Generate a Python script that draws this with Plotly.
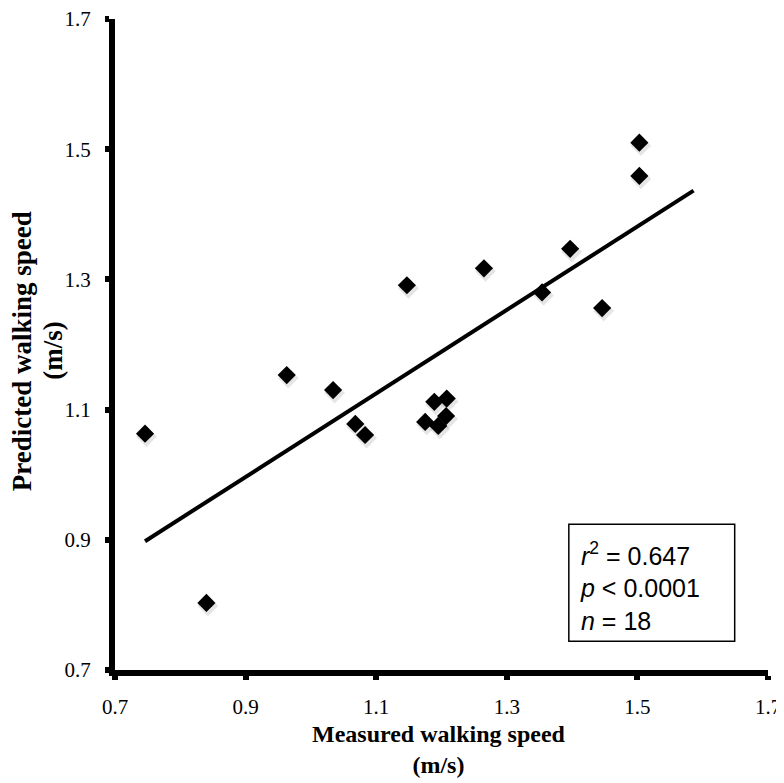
import numpy as np
import plotly.graph_objects as go

# Data
measured = [0.746, 0.840, 0.963, 1.034, 1.068, 1.083, 1.147, 1.175, 1.189,
            1.195, 1.207, 1.208, 1.265, 1.354, 1.397, 1.446, 1.503, 1.503]
predicted = [1.063, 0.803, 1.153, 1.130, 1.078, 1.061, 1.291, 1.081, 1.112,
             1.075, 1.090, 1.117, 1.317, 1.280, 1.347, 1.256, 1.510, 1.459]
tick_vals = [0.7, 0.9, 1.1, 1.3, 1.5, 1.7]
tick_text = ["0.7", "0.9", "1.1", "1.3", "1.5", "1.7"]
trend_forward = 0.083  # trendline forecast beyond last point
stats_text = "<i>r</i><sup>2</sup> = 0.647<br><i>p</i> &lt; 0.0001<br><i>n</i> = 18"

mx = np.array(measured)
py = np.array(predicted)
slope, intercept = np.polyfit(mx, py, 1)
tx = np.array([mx.min(), mx.max() + trend_forward])
ty = slope * tx + intercept

L, R, T, B = 107, 24, 11, 121
W, H = 784, 783
pw, ph = W - L - R, H - T - B
# small drop-shadow offset for markers (in pixels -> data units)
sdx, sdy = 1.5 / pw, -3.0 / ph

fig = go.Figure()
fig.add_trace(go.Scatter(x=mx + sdx, y=py + sdy, mode="markers",
                         marker=dict(symbol="diamond", size=16,
                                     color="rgba(0,0,0,0.10)", line=dict(width=0)),
                         hoverinfo="skip"))
fig.add_trace(go.Scatter(x=tx, y=ty, mode="lines",
                         line=dict(color="black", width=4), hoverinfo="skip"))
fig.add_trace(go.Scatter(x=measured, y=predicted, mode="markers",
                         marker=dict(symbol="diamond", size=14, color="black",
                                     line=dict(width=0))))

serif = "Liberation Serif, Times New Roman, serif"
axis_common = dict(range=[0.7, 1.7], tickvals=tick_vals, ticktext=tick_text,
                   showgrid=False, zeroline=False, showline=True,
                   linewidth=6, linecolor="black", ticks="outside",
                   ticklen=4, tickwidth=6, tickcolor="black",
                   ticklabeloverflow="allow", automargin=False,
                   tickfont=dict(family=serif, size=21, color="black"))

fig.update_layout(
    width=W, height=H,
    margin=dict(l=L, r=R, t=T, b=B),
    paper_bgcolor="white", plot_bgcolor="white",
    showlegend=False,
    xaxis=dict(**axis_common, ticklabelstandoff=9),
    yaxis=dict(**axis_common, ticklabelstandoff=10),
)

fig.add_annotation(text="<b>Measured walking speed</b><br><b>(m/s)</b>",
                   xref="paper", yref="paper", x=0.496, y=-0.122,
                   xanchor="center", yanchor="middle", showarrow=False,
                   font=dict(family=serif, size=24, color="black"))
fig.add_annotation(text="<b>Predicted walking speed</b>",
                   xref="paper", yref="paper", x=-0.142, y=0.49,
                   xanchor="center", yanchor="middle", showarrow=False,
                   textangle=-90, font=dict(family=serif, size=27, color="black"))
fig.add_annotation(text="<b>(m/s)</b>",
                   xref="paper", yref="paper", x=-0.0955, y=0.49,
                   xanchor="center", yanchor="middle", showarrow=False,
                   textangle=-90, font=dict(family=serif, size=27, color="black"))

fig.add_shape(type="rect", xref="paper", yref="paper",
              x0=0.695, x1=0.949, y0=0.044, y1=0.224,
              line=dict(color="black", width=1.5), fillcolor="white")
fig.add_annotation(text=stats_text, xref="paper", yref="paper",
                   x=0.709, y=0.128, xanchor="left", yanchor="middle",
                   align="left", showarrow=False,
                   font=dict(family="Liberation Sans, Arial, sans-serif", size=25, color="black"))

fig.write_html("out.html")
